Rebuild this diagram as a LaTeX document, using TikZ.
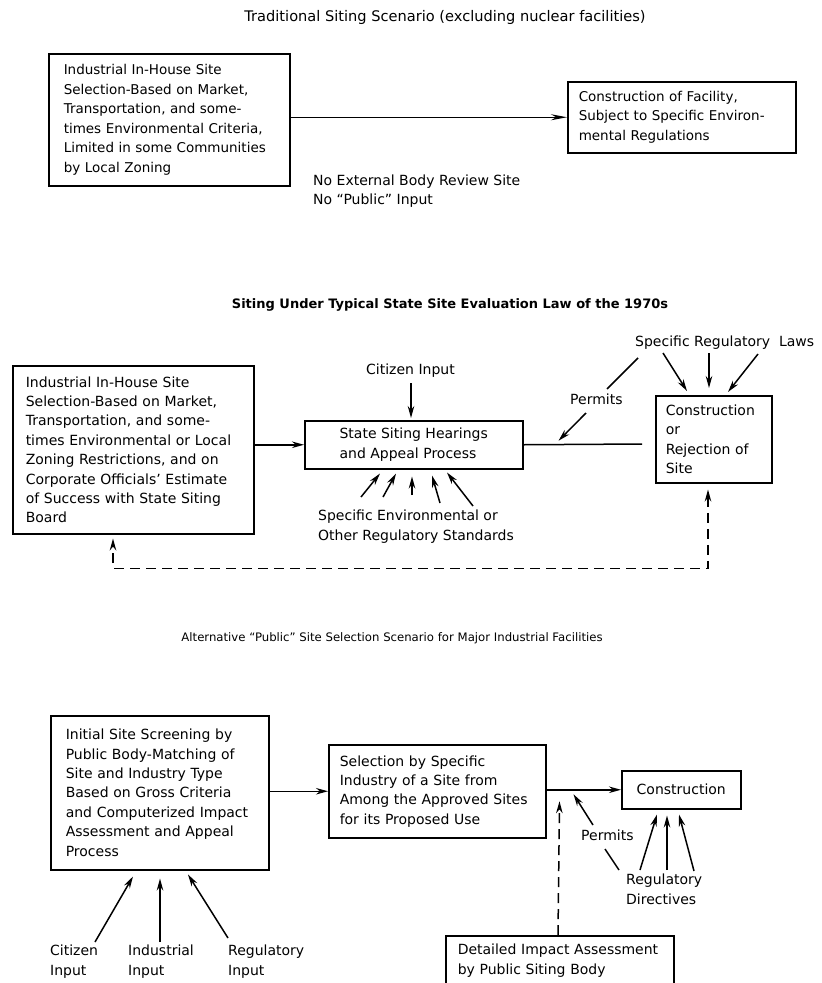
\documentclass[tikz,border=0pt]{standalone}
\usepackage{fontspec}
\setmainfont{DejaVu Sans}
\usetikzlibrary{arrows.meta}
\newcommand\topfont{\fontsize{13.5}{19.5}\selectfont}
\newcommand\boxfont{\fontsize{14}{19.4}\selectfont}
\newcommand\labfont{\fontsize{14}{20}\selectfont}

\begin{document}
\begin{tikzpicture}[x=1pt,y=-1pt,
  box/.style={draw,line width=1.5pt,anchor=north west,align=left,inner ysep=0pt,font=\boxfont},
  lab/.style={anchor=north west,align=left,inner sep=0pt,font=\labfont},
  title/.style={inner sep=0pt},
  arr/.style={line width=1.5pt,-{Stealth[length=12pt,width=6.5pt]}},
  ln/.style={line width=1.5pt},
  dsh/.style={line width=1.5pt,dash pattern=on 10pt off 6pt}]
\clip (0,0) rectangle (822,983);

\node[title,font=\fontsize{14.6}{17}\selectfont] (title1) at (445,17) {Traditional Siting Scenario (excluding nuclear facilities)};
\node[box,font=\topfont,minimum width=241pt,minimum height=132pt,text width=211pt,inner xsep=15pt] (trad) at (48,53) {Industrial In-House Site\\Selection-Based on Market,\\Transportation, and some-\\times Environmental Criteria,\\Limited in some Communities\\by Local Zoning};
\node[box,font=\topfont,minimum width=228pt,minimum height=71pt,text width=206pt,inner xsep=11pt] (facil) at (567,81) {Construction of Facility,\\Subject to Specific Environ-\\mental Regulations};
\node[lab,font=\fontsize{14}{18.5}\selectfont] (noinput) at (313,175) {No External Body Review Site\\No “Public” Input};
\draw[line width=1.5pt,-{Stealth[length=16pt,width=6pt]}] (trad.east |- facil.west) -- (facil.west);

\node[title,font=\bfseries\fontsize{13}{16}\selectfont] (title2) at (450,305) {Siting Under Typical State Site Evaluation Law of the 1970s};
\node[box,minimum width=241pt,minimum height=168pt,text width=215pt,inner xsep=13pt] (inhouse) at (12,365) {Industrial In-House Site\\Selection-Based on Market,\\Transportation, and some-\\times Environmental or Local\\Zoning Restrictions, and on\\Corporate Officials’ Estimate\\of Success with State Siting\\Board};
\node[box,minimum width=218pt,minimum height=48pt] (hearing) at (304,420) {State Siting Hearings\\and Appeal Process};
\node[box,minimum width=116pt,minimum height=87pt,text width=96pt,inner xsep=10pt] (decide) at (655,395) {Construction\\or\\Rejection of\\Site};
\node[lab] (citin) at (366,364) {Citizen Input};
\node[lab] (envstd) at (318,510) {Specific Environmental or\\Other Regulatory Standards};
\node[lab] (lawsA) at (635,336) {Specific Regulatory~ Laws};
\node[lab] (permA) at (570,394) {Permits};
\coordinate (cut) at (642,444);
\draw[arr] (inhouse.east |- hearing.west) -- (hearing.west);
\draw[ln] (hearing.east) -- (cut);
\draw[arr] ([shift={(45,19)}]citin.north west) -- ([shift={(107,-2)}]hearing.north west);
\foreach \a/\b/\c/\d in {43/-13/76/4, 65/-13/92/4, 94/-15/108/7, 122/-7/128/6, 155/-4/143/3}
  \draw[arr] ([shift={(\a,\b)}]envstd.north west) -- ([shift={(\c,\d)}]hearing.south west);
\draw[ln] ([shift={(3,22)}]lawsA.north west) -- ([shift={(37,-5)}]permA.north west);
\draw[arr] ([shift={(16,19)}]permA.north west) -- ([shift={(35,-4)}]hearing.east);
\foreach \a/\b/\c/\d in {28/17/32/-4, 74/17/54/-7, 123/18/73/-3}
  \draw[arr] ([shift={(\a,\b)}]lawsA.north west) -- ([shift={(\c,\d)}]decide.north west);
\draw[dsh,{Stealth[length=12pt,width=6.5pt]}-{Stealth[length=12pt,width=6.5pt]}] ([shift={(53,6)}]decide.south west) |- ([shift={(101,34)}]inhouse.south west) -- ([shift={(101,4)}]inhouse.south west);

\node[title,font=\fontsize{11.7}{14}\selectfont] (title3) at (392,638) {Alternative “Public” Site Selection Scenario for Major Industrial Facilities};
\node[box,minimum width=218pt,minimum height=154pt,text width=188pt,inner xsep=15pt] (screen) at (50,715) {Initial Site Screening by\\Public Body-Matching of\\Site and Industry Type\\Based on Gross Criteria\\and Computerized Impact\\Assessment and Appeal\\Process};
\node[box,minimum width=217pt,minimum height=93pt,text width=195pt,inner xsep=11pt] (select) at (328,744) {Selection by Specific\\Industry of a Site from\\Among the Approved Sites\\for its Proposed Use};
\node[box,minimum width=119pt,minimum height=38pt] (build) at (621,770) {Construction};
\node[box,minimum width=228pt,minimum height=50pt,text width=204pt,inner xsep=12pt] (detail) at (445,935) {Detailed Impact Assessment\\by Public Siting Body};
\node[lab] (permB) at (581,830) {Permits};
\node[lab] (dirB) at (626,874) {Regulatory\\Directives};
\node[lab] (citB) at (50,945) {Citizen\\Input};
\node[lab] (indB) at (128,945) {Industrial\\Input};
\node[lab] (regB) at (228,945) {Regulatory\\Input};
\draw[arr] (screen.east |- select.west) -- (select.west);
\draw[arr] (select.east |- build.west) -- (build.west);
\draw[dsh,-{Stealth[length=12pt,width=6.5pt]}] ([xshift=113pt]detail.north west) -- ([shift={(13,10)}]select.east);
\draw[arr] ([shift={(12,-5)}]permB.north west) -- ([shift={(27,3)}]select.east);
\draw[ln] ([shift={(24,19)}]permB.north west) -- ([shift={(-7,-4)}]dirB.north west);
\foreach \a/\b/\c/\d in {14/-4/36/5, 41/-4/46/6, 68/-3/58/5}
  \draw[arr] ([shift={(\a,\b)}]dirB.north west) -- ([shift={(\c,\d)}]build.south west);
\draw[arr] ([shift={(45,-3)}]citB.north west) -- ([shift={(83,6)}]screen.south west);
\draw[arr] ([shift={(32,-3)}]indB.north west) -- ([shift={(110,8)}]screen.south west);
\draw[arr] ([shift={(0,-7)}]regB.north west) -- ([shift={(138,4)}]screen.south west);
\end{tikzpicture}
\end{document}
